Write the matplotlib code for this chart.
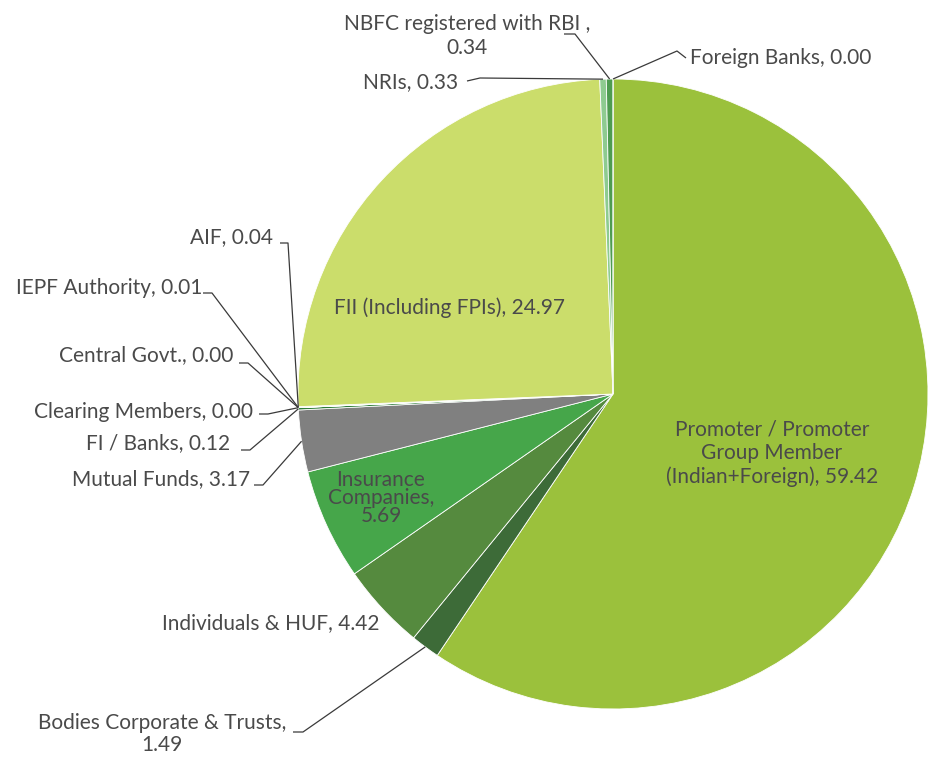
import matplotlib
matplotlib.use("Agg")
import matplotlib.pyplot as plt
import numpy as np

# ---------------- data ----------------
categories = [
    "Promoter / Promoter\nGroup Member\n(Indian+Foreign)",
    "Bodies Corporate & Trusts",
    "Individuals & HUF",
    "Insurance\nCompanies",
    "Mutual Funds",
    "FI / Banks",
    "Clearing Members",
    "Central Govt.",
    "IEPF Authority",
    "AIF",
    "FII (Including FPIs)",
    "NRIs",
    "NBFC registered with RBI ",
    "Foreign Banks",
]
values = [59.42, 1.49, 4.42, 5.69, 3.17, 0.12, 0.00, 0.00, 0.01, 0.04, 24.97, 0.33, 0.34, 0.00]
separators = [", ", ",\n", ", ", ",\n", ", ", ", ", ", ", ", ", ", ", ", ", ", ", ", ", ",\n", ", "]

# ---------------- style ----------------
colors = ["#9BC13C", "#3D6B38", "#558A3E", "#46A64A", "#808080", "#2F7D3A",
          "#5DA05A", "#7FB77E", "#A5CF8C", "#B8D98A", "#CBDD6B", "#8ECB90",
          "#4E9C50", "#FFFFFF"]
TEXT = "#4A4A4A"
LINE = "#3A3A3A"
FS = 15

W, H, DPI = 931, 757, 100
CX, CY, R = 613, 394, 315  # pixel geometry of the pie


def P(px, py):
    return ((px - CX) / R, (CY - py) / R)


# label layout: (x px, y px, ha, linespacing, leader stub points in px or None)
layout = [
    (772, 453, "center", 1.22, None),
    (162, 734, "center", 1.18, [(293, 732), (303, 732)]),
    (380, 623, "right", 1.2, None),
    (381, 498, "center", 0.87, None),
    (250, 479, "right", 1.2, [(254, 485), (263, 485)]),
    (230, 443, "right", 1.2, [(241, 450), (250, 450)]),
    (253, 412, "right", 1.2, [(259, 414), (268, 414)]),
    (233, 355, "right", 1.2, [(239, 363), (248, 363)]),
    (202, 288, "right", 1.2, [(203, 293), (212, 293)]),
    (273, 237, "right", 1.2, [(280, 243), (288, 243)]),
    (450, 308, "center", 1.2, None),
    (458, 82, "right", 1.2, [(467, 81), (480, 78)]),
    (467, 36, "center", 1.22, [(564, 34), (575, 34)]),
    (690, 58, "left", 1.2, [(686, 58), (677, 51)]),
]

plt.rcParams["font.family"] = ["Lato", "DejaVu Sans"]

fig = plt.figure(figsize=(W / DPI, H / DPI), dpi=DPI)
ax = fig.add_axes([0, 0, 1, 1])

wedges, _ = ax.pie(values, colors=colors, startangle=90, counterclock=False,
                   radius=1.0, center=(0, 0),
                   wedgeprops=dict(edgecolor="white", linewidth=0.6))

ax.set_xlim(-CX / R, (W - CX) / R)
ax.set_ylim(-(H - CY) / R, CY / R)
ax.set_aspect("auto")
ax.axis("off")

for cat, val, sep, w, (lx, ly, ha, ls, stub) in zip(categories, values, separators, wedges, layout):
    label = f"{cat}{sep}{val:.2f}"
    x, y = P(lx, ly)
    ax.text(x, y, label, ha=ha, va="center", fontsize=FS, color=TEXT,
            linespacing=ls, zorder=5)
    if stub is not None:
        mid = np.deg2rad((w.theta1 + w.theta2) / 2.0)
        ex, ey = np.cos(mid) * w.r, np.sin(mid) * w.r
        pts = [P(*p) for p in stub]
        xs = [p[0] for p in pts] + [ex]
        ys = [p[1] for p in pts] + [ey]
        ax.plot(xs, ys, color=LINE, lw=0.9, zorder=4, solid_capstyle="butt")

fig.savefig("out.png", dpi=DPI, facecolor="white")
